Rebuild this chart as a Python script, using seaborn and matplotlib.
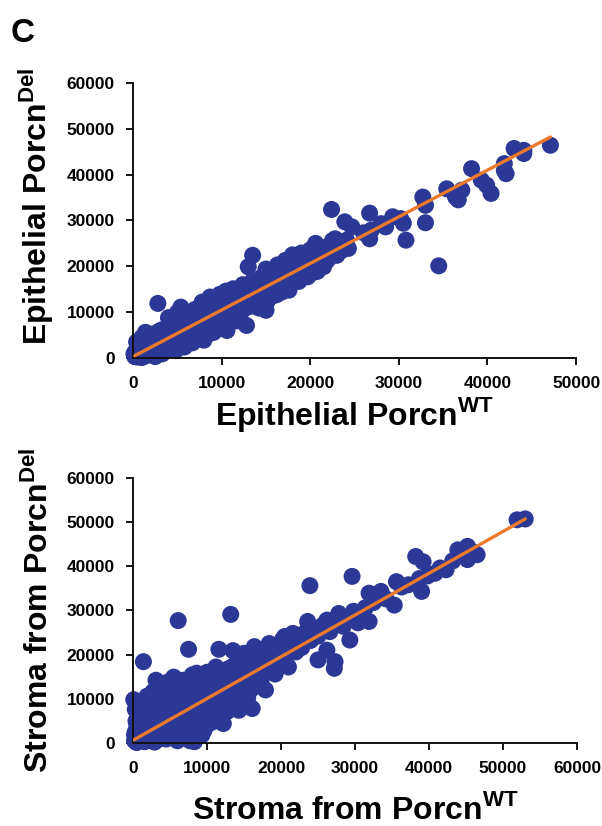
import numpy as np
import matplotlib
matplotlib.use('Agg')
import matplotlib.pyplot as plt
import seaborn as sns

sns.set_style('ticks')
plt.rcParams['font.family'] = ['Liberation Sans', 'DejaVu Sans']
plt.rcParams['font.weight'] = 'bold'
plt.rcParams['text.color'] = 'black'
plt.rcParams['axes.labelcolor'] = 'black'
plt.rcParams['xtick.color'] = 'black'
plt.rcParams['ytick.color'] = 'black'
plt.rcParams['mathtext.fontset'] = 'custom'
plt.rcParams['mathtext.rm'] = 'Liberation Sans:bold'
plt.rcParams['mathtext.bf'] = 'Liberation Sans:bold'

# values, in thousands
epi_wt = [0.2, 0.3, 0.5, 0.6, 0.8, 1.0, 1.0, 1.2, 1.4, 1.5, 1.7, 2.0, 2.1, 2.3, 2.5, 2.8, 2.8, 3.0,
          3.2, 3.3, 3.5, 3.8, 4.0, 4.1, 4.3, 4.6, 4.8, 5.0, 5.2, 5.4, 5.5, 5.8, 5.9, 6.0, 6.3, 6.5,
          6.7, 7.0, 7.1, 7.3, 7.6, 7.8, 8.0, 8.2, 8.4, 8.7, 8.9, 9.1, 9.3, 9.6, 9.8, 10.0, 10.2,
          10.5, 10.6, 10.8, 11.0, 11.3, 11.5, 11.7, 12.0, 12.2, 12.4, 12.6, 12.8, 13.0, 13.0, 13.3,
          13.5, 13.5, 13.7, 14.0, 14.2, 14.5, 14.5, 14.8, 15.0, 15.0, 15.3, 15.6, 15.8, 16.0, 16.3,
          16.5, 16.8, 17.0, 17.2, 17.5, 17.6, 17.8, 18.0, 18.2, 18.5, 18.8, 19.0, 19.2, 19.5, 19.7,
          20.0, 20.2, 20.5, 20.6, 20.8, 21.0, 21.3, 21.5, 21.8, 22.0, 22.4, 22.5, 22.8, 23.0, 23.3,
          23.9, 24.1, 24.3, 24.7, 26.0, 26.7, 26.7, 26.9, 28.0, 28.5, 29.3, 30.2, 30.5, 30.8, 32.7,
          33.0, 33.0, 34.5, 35.4, 36.4, 36.7, 37.1, 38.2, 39.3, 39.9, 40.4, 41.9, 41.9, 42.1, 43.0,
          44.1, 44.1, 47.1,
          0.1, 0.4, 0.7, 0.9, 1.3, 1.6, 1.9, 2.2, 2.6, 2.9, 3.4, 3.7, 3.9, 4.4, 4.7, 5.1, 5.3, 5.7,
          6.1, 6.4, 6.8, 7.2, 7.5, 7.9, 8.3, 8.6, 9.0, 9.4, 9.7, 10.1, 10.4, 10.9, 11.2, 11.6, 11.9,
          12.3, 12.7, 13.1, 13.4, 13.9, 14.3, 14.7, 15.1, 15.5, 15.9, 16.2, 16.6, 17.1, 17.4, 17.9,
          18.3, 18.7, 19.1, 19.6, 20.1, 20.4, 21.1, 21.7, 22.2, 23.5]
epi_del = [0.3, 1.5, 0.2, 2.8, 1.0, 4.5, 0.1, 2.0, 5.6, 0.5, 3.2, 1.1, 5.2, 2.6, 0.3, 11.9, 4.0, 1.8,
           6.1, 0.9, 3.1, 5.0, 8.8, 2.2, 4.4, 6.7, 1.6, 9.9, 3.8, 11.1, 5.8, 2.4, 7.9, 4.6, 9.2, 6.5,
           3.3, 10.6, 7.6, 5.1, 8.9, 12.2, 3.9, 6.6, 10.2, 13.3, 8.0, 5.6, 11.4, 9.1, 13.9, 7.2, 10.8,
           14.6, 6.0, 12.4, 9.4, 15.1, 11.0, 8.1, 13.3, 10.0, 16.0, 12.1, 7.1, 19.9, 14.4, 11.3,
           22.4, 16.8, 13.0, 15.2, 10.9, 17.6, 12.8, 14.3, 10.4, 19.4, 16.1, 13.4, 18.5, 15.0, 20.3,
           17.0, 14.4, 18.8, 21.3, 16.2, 14.8, 19.8, 22.5, 17.6, 20.6, 18.1, 22.9, 19.5, 21.4, 17.7,
           23.6, 20.2, 22.2, 25.0, 18.9, 21.2, 24.1, 19.9, 22.8, 21.5, 32.4, 25.6, 26.0, 22.4, 24.3,
           29.7, 25.7, 23.9, 28.6, 27.3, 31.6, 26.0, 27.9, 29.3, 28.6, 30.8, 30.4, 29.4, 25.7, 35.1,
           33.3, 29.5, 20.1, 36.9, 35.1, 34.5, 36.6, 41.3, 38.8, 37.7, 35.9, 42.4, 40.9, 40.2, 45.7,
           45.3, 44.6, 46.4,
           0.9, 3.5, 0.5, 2.2, 3.8, 1.4, 4.6, 0.8, 3.4, 5.8, 2.5, 4.2, 6.9, 3.1, 5.3, 7.4, 2.9, 4.9,
           8.6, 5.2, 7.1, 4.0, 9.7, 6.2, 8.5, 5.3, 10.9, 7.4, 12.0, 9.0, 8.2, 10.3, 13.2, 9.9, 12.0,
           14.8, 10.9, 13.2, 15.2, 12.1, 16.4, 15.6, 12.2, 17.8, 16.4, 13.8, 19.0, 17.3, 15.2, 20.7,
           19.2, 16.7, 20.4, 19.0, 21.5, 18.7, 23.2, 20.8, 23.8, 23.4]
# trend line ends as drawn in the figure
epi_fit_x = [0.2, 47.1]
epi_fit_y = [0.5, 48.2]

str_wt = [0.1, 0.2, 0.3, 0.4, 0.5, 0.6, 0.8, 1.0, 1.2, 1.4, 1.5, 1.6, 1.8, 2.0, 2.2, 2.4, 2.6, 2.8,
          3.0, 3.1, 3.2, 3.4, 3.6, 3.8, 4.0, 4.2, 4.4, 4.7, 4.8, 5.0, 5.2, 5.4, 5.6, 5.8, 6.0, 6.1,
          6.2, 6.4, 6.6, 6.8, 7.0, 7.2, 7.4, 7.5, 7.6, 7.8, 8.0, 8.1, 8.3, 8.5, 8.7, 9.0, 9.2, 9.5,
          9.6, 9.8, 10.0, 10.3, 10.5, 10.8, 11.0, 11.2, 11.5, 11.6, 11.8, 12.0, 12.2, 12.5, 12.8,
          13.0, 13.2, 13.5, 13.6, 13.8, 14.0, 14.3, 14.5, 14.8, 15.0, 15.2, 15.5, 15.8, 16.1, 16.2,
          16.4, 16.6, 17.0, 17.3, 17.6, 17.9, 18.2, 18.4, 18.8, 19.2, 19.5, 19.8, 20.2, 20.5, 20.6,
          21.0, 21.3, 21.6, 22.0, 22.4, 22.8, 23.3, 23.6, 23.9, 24.0, 24.5, 25.0, 25.0, 25.6, 26.2,
          26.2, 26.6, 27.2, 27.3, 27.5, 27.8, 28.4, 29.0, 29.3, 29.6, 29.8, 30.4, 30.9, 31.4, 31.9,
          31.9, 32.5, 33.5, 34.2, 35.3, 35.6, 36.3, 37.2, 38.2, 38.7, 39.0, 39.2, 39.8, 40.8, 41.5,
          42.3, 43.2, 43.9, 44.4, 45.2, 45.2, 46.0, 46.5, 51.9, 53.0,
          0.2, 0.3, 0.5, 0.7, 0.9, 1.1, 1.3, 1.7, 1.9, 2.1, 2.3, 2.5, 2.7, 2.9, 3.3, 3.5, 3.7, 3.9,
          4.1, 4.3, 4.5, 4.9, 5.1, 5.3, 5.5, 5.7, 5.9, 6.3, 6.5, 6.7, 6.9, 7.1, 7.3, 7.7, 7.9, 8.2,
          8.4, 8.6, 8.8, 9.1, 9.3, 9.7, 9.9, 10.1, 10.4, 10.7, 10.9, 11.1, 11.4, 11.7, 11.9, 12.3,
          12.7, 12.9, 13.3, 13.7, 14.1, 14.4, 14.7, 15.1, 15.4, 15.7, 16.0, 16.3, 16.8, 17.1, 17.5,
          17.8, 18.1, 18.6, 19.0, 19.4, 19.9, 20.3, 20.9, 21.4, 22.2, 22.6]
str_del = [9.8, 0.5, 2.5, 5.0, 0.1, 3.8, 6.8, 1.2, 4.4, 18.4, 7.9, 0.3, 2.9, 5.9, 8.6, 1.4, 3.7, 6.9,
           0.4, 14.2, 9.9, 2.3, 5.2, 7.9, 1.0, 11.0, 3.4, 13.8, 6.4, 9.3, 2.0, 4.7, 11.8, 7.5, 0.5,
           27.7, 3.6, 10.2, 5.9, 14.2, 8.4, 1.2, 12.1, 21.2, 4.7, 9.9, 15.4, 6.9, 0.3, 11.6, 3.3,
           8.7, 13.8, 5.6, 2.9, 10.7, 16.0, 7.7, 12.6, 4.8, 9.8, 17.2, 14.1, 21.2, 6.9, 11.4, 4.4,
           15.3, 9.0, 12.8, 29.1, 20.9, 17.5, 10.4, 14.6, 7.4, 18.3, 12.3, 20.3, 15.6, 10.2, 17.7,
           7.8, 13.6, 21.8, 16.2, 19.1, 14.0, 21.2, 12.0, 17.4, 22.5, 19.6, 15.6, 21.6, 18.0, 23.4,
           24.1, 19.8, 17.2, 22.0, 24.8, 20.6, 23.0, 21.6, 25.0, 27.5, 35.6, 23.2, 25.8, 18.8, 24.2,
           26.6, 27.8, 21.0, 25.2, 16.9, 18.4, 27.0, 29.3, 26.4, 28.4, 23.3, 37.7, 29.8, 27.2, 28.6,
           30.6, 27.5, 33.9, 31.8, 34.3, 32.6, 31.2, 36.5, 35.3, 35.8, 42.2, 37.2, 34.3, 41.0, 37.8,
           38.4, 39.6, 39.2, 41.2, 43.7, 42.5, 44.5, 41.5, 43.2, 42.6, 50.5, 50.7,
           1.8, 7.6, 4.2, 2.0, 8.5, 5.6, 0.8, 4.0, 10.6, 2.1, 7.0, 4.9, 11.6, 0.2, 8.2, 6.1, 12.0, 3.2,
           9.5, 5.7, 0.9, 12.4, 7.0, 3.0, 14.9, 9.9, 5.3, 1.9, 12.9, 8.1, 3.2, 11.0, 6.2, 0.5, 13.1,
           9.4, 5.0, 15.8, 11.3, 6.6, 1.8, 14.3, 8.8, 4.2, 11.0, 15.8, 7.6, 12.9, 5.8, 16.3, 9.7,
           13.6, 7.1, 16.8, 11.7, 14.2, 9.2, 17.4, 13.8, 11.4, 18.6, 15.0, 12.2, 19.7, 17.4, 13.7,
           20.2, 16.8, 19.8, 17.6, 21.3, 18.8, 20.9, 22.0, 21.2, 23.6, 22.4, 24.4]
str_fit_x = [0.1, 53.0]
str_fit_y = [0.7, 50.7]

dot_color = '#2B3896'
line_color = '#EC7A2D'

fig = plt.figure(figsize=(6.02, 8.26), dpi=100)
ax1 = fig.add_axes([0.221, 0.5666, 0.736, 0.333])
ax2 = fig.add_axes([0.221, 0.1005, 0.7375, 0.321])

panels = [
    (ax1, epi_wt, epi_del, epi_fit_x, epi_fit_y, 50000, 'Epithelial Porcn', 3, 0.55),
    (ax2, str_wt, str_del, str_fit_x, str_fit_y, 60000, 'Stroma from Porcn', 13, 0.5),
]
for ax, xs, ys, fx, fy, xmax, name, xpad, ylab_y in panels:
    xs = np.array(xs) * 1000
    ys = np.array(ys) * 1000
    sns.scatterplot(x=xs, y=ys, ax=ax, s=150, color=dot_color, edgecolor='none',
                    clip_on=False, zorder=2, legend=False)
    sns.lineplot(x=np.array(fx) * 1000, y=np.array(fy) * 1000, ax=ax,
                 color=line_color, lw=2.4, zorder=3)
    ax.set_xlim(0, xmax)
    ax.set_ylim(0, 60000)
    ax.set_xticks(np.arange(0, xmax + 1, 10000))
    ax.set_yticks(np.arange(0, 60001, 10000))
    ax.tick_params(direction='out', length=5, width=1.3, labelsize=12.5, pad=8)
    for lab in ax.get_xticklabels() + ax.get_yticklabels():
        lab.set_fontweight('bold')
    for sp in ['left', 'bottom']:
        ax.spines[sp].set_linewidth(1.4)
        ax.spines[sp].set_color('#111111')
    sns.despine(ax=ax)
    ax.set_xlabel(name + r'$^{\mathbf{WT}}$', fontsize=23, fontweight='bold', labelpad=xpad)
    ax.set_ylabel(name + r'$^{\mathbf{Del}}$', fontsize=23, fontweight='bold')
    ax.yaxis.set_label_coords(-0.175, ylab_y)

fig.text(0.037, 0.959, 'C', fontsize=24, fontweight='bold', ha='center', va='center')

fig.savefig('out.png', dpi=100)
